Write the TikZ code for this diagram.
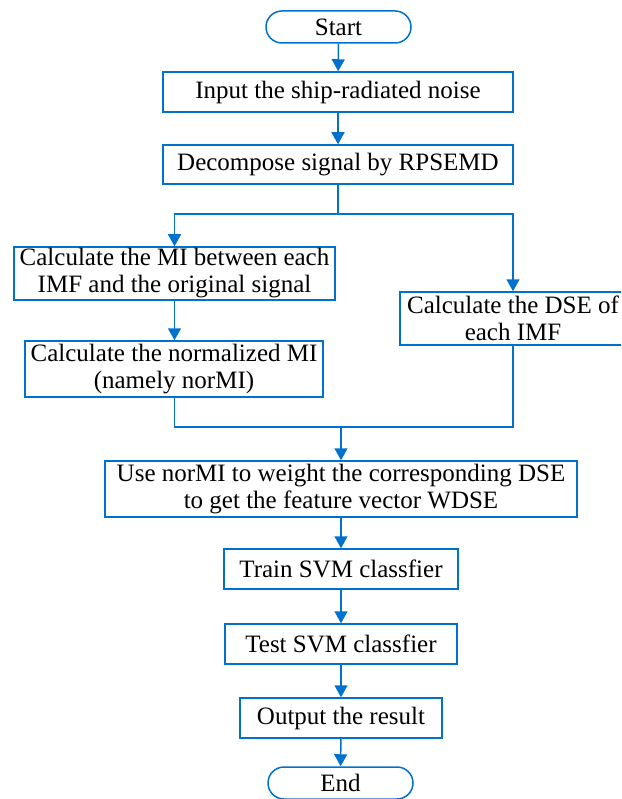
\documentclass[tikz,border=0pt]{standalone}
\usepackage{fontspec}
\setmainfont{Liberation Serif}
\usetikzlibrary{shapes.misc,arrows.meta}
\definecolor{fblue}{RGB}{0,114,206}
\tikzset{
  box/.style={draw=fblue,line width=1.5pt,rectangle,inner sep=0pt,align=center,font=\fontsize{25}{27}\selectfont},
  term/.style={draw=fblue,line width=1.5pt,rounded rectangle,inner sep=0pt,align=center,minimum width=145pt,minimum height=32pt,font=\fontsize{25}{27}\selectfont},
  arr/.style={draw=fblue,line width=1.5pt,-{Triangle[length=12pt,width=13pt]}},
  ln/.style={draw=fblue,line width=1.5pt}
}
\begin{document}
\begin{tikzpicture}[x=1pt,y=-1pt]
\clip (0,0) rectangle (621,799);
\fill[white] (0,0) rectangle (621,799);
\node[term] (start) at (338.5,27) {Start};
\node[box,minimum width=350pt,minimum height=40pt] (input) at (338,92) {Input the ship-radiated noise};
\node[box,minimum width=350pt,minimum height=39pt] (decomp) at (338,164.5) {Decompose signal by RPSEMD};
\node[box,minimum width=321pt,minimum height=53pt] (mi) at (174.5,273.5) {Calculate the MI between each\\IMF and the original signal};
\node[box,minimum width=298pt,minimum height=56pt] (normi) at (174,369) {Calculate the normalized MI\\(namely norMI)};
\node[box,minimum width=226pt,minimum height=53pt] (dse) at (513,318.5) {Calculate the DSE of\\each IMF};
\node[box,minimum width=472pt,minimum height=56pt] (wdse) at (341,489) {Use norMI to weight the corresponding DSE\\to get the feature vector WDSE};
\node[box,minimum width=234pt,minimum height=40pt] (train) at (341,569) {Train SVM classfier};
\node[box,minimum width=232pt,minimum height=40pt] (test) at (341,644) {Test SVM classfier};
\node[box,minimum width=202pt,minimum height=40pt] (output) at (341,718) {Output the result};
\node[term] (end) at (340.5,783) {End};
\coordinate (split) at (338,214);
\coordinate (join) at (341,427);
\draw[arr] (start) -- (input);
\draw[arr] (input) -- (decomp);
\draw[ln] (decomp.south) -- (split);
\draw[arr] (split) -| (mi.north);
\draw[arr] (split) -| (dse.north);
\draw[arr] (mi.south) -- (mi.south |- normi.north);
\draw[ln] (mi.south |- normi.south) |- (dse.south |- join) -- (dse.south);
\draw[arr] (join) -- (wdse.north);
\draw[arr] (wdse) -- (train);
\draw[arr] (train) -- (test);
\draw[arr] (test) -- (output);
\draw[arr] (output) -- (end);
\end{tikzpicture}
\end{document}
